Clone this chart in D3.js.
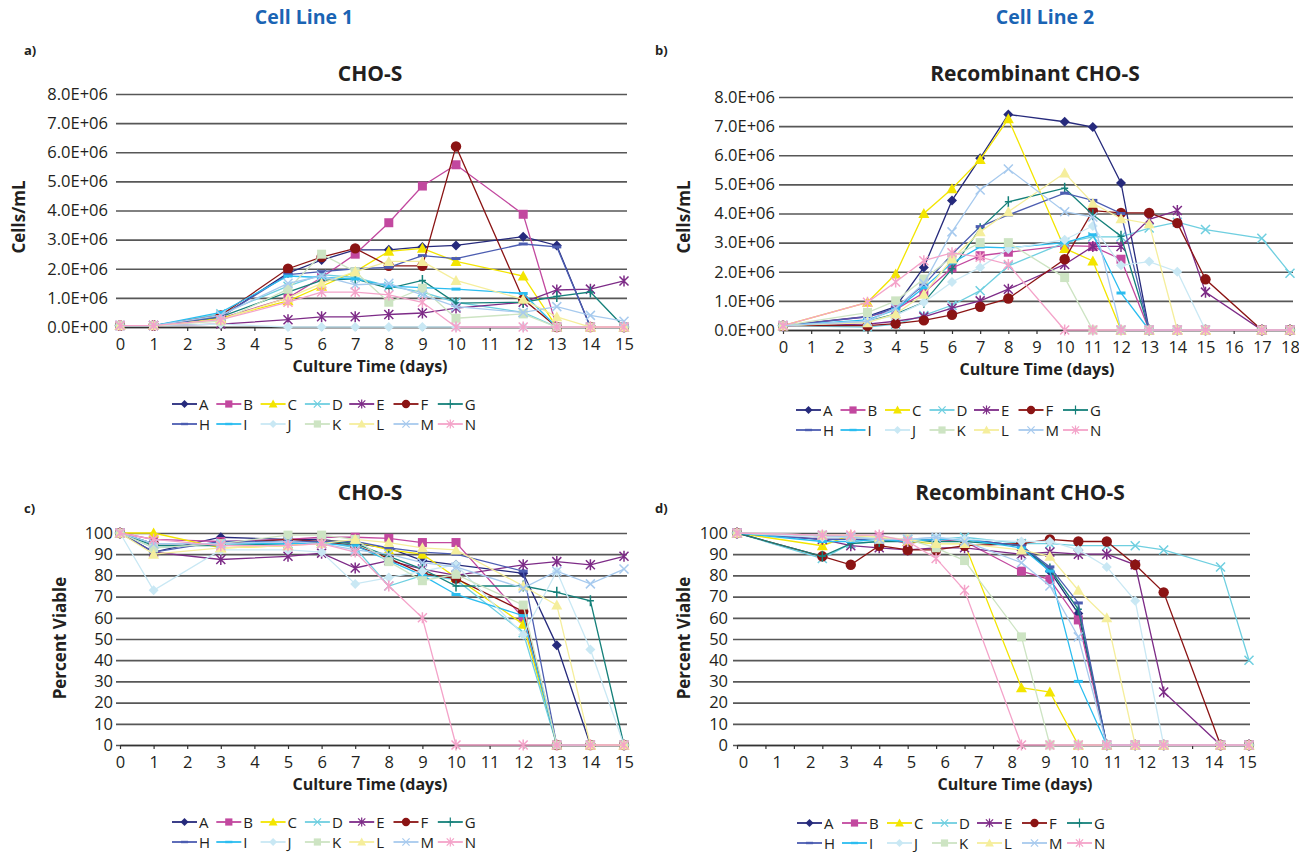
<!DOCTYPE html>
<html>
<head>
<meta charset="utf-8">
<script src="https://cdn.jsdelivr.net/npm/d3@7"></script>
<style>
  body { margin: 0; background: #fff; }
  svg text { font-family: "Open Sans", "Noto Sans", sans-serif; fill: #231f20; }
</style>
</head>
<body>
<svg id="chart" width="1299" height="852"></svg>
<script>
// Series labels and sampling days
var seriesNames = ["A", "B", "C", "D", "E", "F", "G", "H", "I", "J", "K", "L", "M", "N"]
var daysLine1 = [0, 1, 3, 5, 6, 7, 8, 9, 10, 12, 13, 14, 15]
var daysLine2 = [0, 3, 4, 5, 6, 7, 8, 10, 11, 12, 13, 14, 15, 17, 18]
var axisDays15 = d3.range(0, 16)
var axisDays18 = d3.range(0, 19)
var cellTicks = d3.range(0, 9)
var viableTicks = d3.range(0, 101, 10)

// Cell Line 1, CHO-S, cells/mL in millions (one row per series A..N)
var cellsLine1 = [
  [0.05, 0.05, 0.35, 1.85, 2.3, 2.65, 2.65, 2.75, 2.8, 3.1, 2.8, 0, 0],
  [0.05, 0.05, 0.3, 1.0, 1.7, 2.5, 3.58, 4.84, 5.57, 3.87, 0, 0, 0],
  [0.05, 0.05, 0.3, 0.9, 1.4, 1.9, 2.6, 2.7, 2.25, 1.75, 0, 0, 0],
  [0.05, 0.05, 0.45, 1.4, 1.8, 1.7, 1.4, 1.2, 0.85, 0.5, 0, 0, 0],
  [0.05, 0.05, 0.1, 0.25, 0.35, 0.35, 0.43, 0.48, 0.65, 0.85, 1.27, 1.3, 1.58],
  [0.05, 0.05, 0.4, 2.0, 2.4, 2.7, 2.1, 2.1, 6.2, 0.95, 0, 0, 0],
  [0.05, 0.05, 0.35, 1.2, 1.6, 1.65, 1.33, 1.6, 0.82, 0.85, 1.05, 1.2, 0],
  [0.05, 0.05, 0.35, 1.8, 1.9, 2.0, 2.05, 2.45, 2.35, 2.85, 2.75, 0, 0],
  [0.05, 0.05, 0.5, 1.75, 1.7, 1.65, 1.4, 1.35, 1.3, 1.15, 0, 0, 0],
  [0.05, 0.05, 0.1, 0, 0, 0, 0, 0, 0, 0, 0, 0, 0],
  [0.05, 0.05, 0.2, 1.3, 2.5, 1.9, 0.85, 1.33, 0.3, 0.45, 0, 0, 0],
  [0.05, 0.05, 0.25, 1.0, 1.5, 1.9, 2.25, 2.25, 1.6, 0.95, 0.35, 0, 0],
  [0.05, 0.05, 0.4, 1.5, 1.75, 1.45, 1.5, 1.1, 0.7, 0.5, 0.7, 0.4, 0.2],
  [0.05, 0.05, 0.25, 0.85, 1.2, 1.2, 1.1, 0.85, 0, 0, 0, 0, 0]
]

// Cell Line 2, Recombinant CHO-S, cells/mL in millions
var cellsLine2 = [
  [0.15, 0.47, 0.8, 2.15, 4.45, 5.9, 7.4, 7.15, 6.97, 5.05, 0, 0, 0, 0, 0],
  [0.15, 0.45, 0.7, 1.28, 2.13, 2.55, 2.67, 2.9, 2.87, 2.43, 0, 0, 0, 0, 0],
  [0.15, 0.95, 1.92, 4.0, 4.85, 5.85, 7.25, 2.8, 2.37, 0, 0, 0, 0, 0, 0],
  [0.15, 0.1, 0.2, 0.5, 0.85, 1.35, 2.2, 3.0, 3.2, 3.2, 3.5, 3.7, 3.45, 3.15, 1.95],
  [0.15, 0.2, 0.3, 0.45, 0.75, 1.0, 1.4, 2.25, 2.87, 2.87, 3.8, 4.1, 1.3, 0, 0],
  [0.15, 0.15, 0.22, 0.33, 0.52, 0.8, 1.08, 2.43, 4.1, 4.02, 4.02, 3.67, 1.74, 0, 0],
  [0.15, 0.3, 0.55, 0.95, 2.1, 3.48, 4.4, 4.87, 3.96, 3.22, 0, 0, 0, 0, 0],
  [0.15, 0.45, 0.75, 1.55, 2.6, 3.55, 3.95, 4.7, 4.45, 4.0, 0, 0, 0, 0, 0],
  [0.15, 0.35, 0.7, 1.45, 2.3, 2.85, 2.82, 3.0, 3.27, 1.27, 0, 0, 0, 0, 0],
  [0.15, 0.3, 0.5, 0.95, 1.65, 2.15, 2.78, 3.1, 3.57, 2.22, 2.35, 2.0, 0, 0, 0],
  [0.15, 0.6, 1.0, 1.75, 2.5, 3.0, 3.0, 1.8, 0, 0, 0, 0, 0, 0, 0],
  [0.15, 0.25, 0.55, 1.23, 2.44, 3.37, 4.06, 5.39, 4.35, 3.82, 3.65, 0, 0, 0, 0],
  [0.15, 0.3, 0.75, 1.6, 3.37, 4.81, 5.53, 4.06, 3.88, 0, 0, 0, 0, 0, 0],
  [0.15, 0.95, 1.65, 2.38, 2.65, 2.5, 2.25, 0, 0, 0, 0, 0, 0, 0, 0]
]

// Cell Line 1, percent viable
var viableLine1 = [
  [100, 91, 98, 97, 97, 95, 93, 87, 85, 81, 47, 0, 0],
  [100, 97, 96, 97, 98, 98, 97.5, 95.5, 95.5, 60, 0, 0, 0],
  [100, 100, 93, 94, 96, 96, 92, 90, 79, 57, 0, 0, 0],
  [100, 93, 95, 95, 96, 93, 75, 80, 78, 53, 0, 0, 0],
  [100, 91, 87.5, 89, 90.5, 83.5, 87, 83, 80, 85, 86.5, 85, 89],
  [100, 95, 95, 97, 96, 94, 88, 81, 78.5, 63, 0, 0, 0],
  [100, 94, 94, 95, 96, 95, 89, 83, 75, 75, 72, 68, 0],
  [100, 91, 96, 96, 96, 96, 93, 91, 90, 82, 0, 0, 0],
  [100, 95, 95, 95, 95, 94, 87, 80, 71, 61, 0, 0, 0],
  [100, 73, 92, 92, 91, 76, 79, 82, 85, 52, 82, 45, 0],
  [100, 93, 95, 99, 99, 97, 86.5, 77.5, 80.5, 66, 0, 0, 0],
  [100, 90, 93, 94, 95, 97, 95.5, 93, 92, 75, 66, 0, 0],
  [100, 95, 95, 96, 95, 92, 90, 86, 84, 74, 82, 76, 83],
  [100, 97, 94, 94, 95, 91, 75, 60, 0, 0, 0, 0, 0]
]

// Cell Line 2, percent viable
var viableLine2 = [
  [100, 97, 97, 97, 96, 97, 97, 94, 82, 62, 0, 0, 0, 0, 0],
  [100, 98, 98, 98, 95, 97, 96, 82, 78, 59, 0, 0, 0, 0, 0],
  [100, 94, 99, 98, 96, 95, 95, 27, 25, 0, 0, 0, 0, 0, 0],
  [100, 88, 95, 96, 97, 97, 98, 95, 95, 94, 94, 94, 92, 84, 40],
  [100, 97, 94, 93, 92, 93, 93, 90, 91, 90, 90, 85, 25, 0, 0],
  [100, 89, 85, 94, 92, 92, 94, 95, 97, 96, 96, 85, 72, 0, 0],
  [100, 89, 95, 96, 96, 96, 96, 94, 83, 64, 0, 0, 0, 0, 0],
  [100, 97, 97, 97, 96, 97, 97, 94, 84, 67, 0, 0, 0, 0, 0],
  [100, 96, 96, 97, 96, 97, 97, 93, 82, 30, 0, 0, 0, 0, 0],
  [100, 98, 98, 98, 97, 98, 97, 96, 96, 92, 84, 68, 0, 0, 0],
  [100, 99, 98, 97, 97, 93, 87, 51, 0, 0, 0, 0, 0, 0, 0],
  [100, 99, 99, 98, 97, 95, 95, 92, 89, 73, 60, 0, 0, 0, 0],
  [100, 99, 98, 97, 97, 98, 96, 86, 75, 51, 0, 0, 0, 0, 0],
  [100, 99, 99, 99, 96, 88, 73, 0, 0, 0, 0, 0, 0, 0, 0]
]

// Styles per series
var seriesColors = ["#262a7c", "#c2489f", "#f3e500", "#6fcfe0", "#7d2b87", "#8b1414", "#15807a",
  "#4c5db1", "#2bbdf0", "#c9e8f4", "#cde4c3", "#f5ee9c", "#a7caee", "#f4a3c9"]
var seriesShapes = ["diamond", "square", "triangle", "x", "star", "circle", "plus",
  "dash", "dash", "diamond", "square", "triangle", "x", "star"]

var svg = d3.select("#chart")

function markerPath(shape) {
  switch (shape) {
    case "diamond": return "M0,-5L5,0L0,5L-5,0Z"
    case "square": return "M-4.5,-4.5h9v9h-9Z"
    case "triangle": return "M0,-5.5L5.5,4.5L-5.5,4.5Z"
    case "circle": return d3.symbol(d3.symbolCircle, 85)()
    case "x": return "M-4.5,-4.5L4.5,4.5M-4.5,4.5L4.5,-4.5"
    case "star": return "M-4.5,-4.5L4.5,4.5M-4.5,4.5L4.5,-4.5M0,-5.5L0,5.5"
    case "plus": return "M0,-5.5L0,5.5M-3.5,0L3.5,0"
    case "dash": return "M-4.5,0L4.5,0"
  }
}
var filledShapes = ["diamond", "square", "triangle", "circle"]

function styleMarker(sel, i) {
  var shape = seriesShapes[i]
  var filled = filledShapes.indexOf(shape) >= 0
  sel.attr("d", markerPath(shape))
    .style("fill", filled ? seriesColors[i] : "none")
    .style("stroke", seriesColors[i])
    .style("stroke-width", filled ? 0 : (shape == "dash" ? 3 : 1.5))
}

function cellFormat(d) {
  return d.toFixed(1) + (d == 0 ? "E+00" : "E+06")
}

function drawPanel(p) {
  var x = d3.scaleLinear().domain(p.xDomain).range(p.xRange)
  var y = d3.scaleLinear().domain(p.yDomain).range(p.yRange)
  var g = svg.append("g")

  // Grid lines with y tick labels
  var grid = g.append("g")
    .attr("transform", `translate(${p.gridLeft},0)`)
    .call(d3.axisLeft(y)
      .tickValues(p.yTicks)
      .tickSize(-(p.gridRight - p.gridLeft))
      .tickPadding(p.labelPad)
      .tickFormat(p.yFormat))
  grid.select(".domain").remove()
  grid.selectAll(".tick line").style("stroke", "#575757").style("stroke-width", 1.7)
  grid.selectAll(".tick text").style("font-size", "16.5px")

  // X axis: tick marks on the data scale, labels on the label scale
  var ax = g.append("g")
    .attr("transform", `translate(0,${y(0)})`)
    .call(d3.axisBottom(x).tickValues(p.tickDays).tickSize(4).tickSizeOuter(0).tickFormat(p.labelScale ? "" : d3.format("d")).tickPadding(7))
  ax.select(".domain").style("stroke", "#333").style("stroke-width", 1.4)
  ax.selectAll(".tick line").style("stroke", "#333").style("stroke-width", 1.2)
  ax.selectAll(".tick text").style("font-size", "16.5px")
  if (p.labelScale) {
    var lx = d3.scaleLinear().domain([0, 15]).range(p.labelScale)
    var ax2 = g.append("g")
      .attr("transform", `translate(0,${y(0)})`)
      .call(d3.axisBottom(lx).tickValues(axisDays15).tickSize(0).tickPadding(11))
    ax2.select(".domain").remove()
    ax2.selectAll(".tick text").style("font-size", "16.5px")
  }

  // Series lines and markers
  var line = d3.line()
    .x(function(d) { return x(d[0]) })
    .y(function(d) { return y(d[1]) })
  p.values.forEach(function(vals, i) {
    var pts = vals.map(function(v, k) { return [p.days[k], v] })
    g.append("path")
      .datum(pts)
      .attr("d", line)
      .style("fill", "none")
      .style("stroke", seriesColors[i])
      .style("stroke-width", 1.3)
    g.selectAll(".m" + i)
      .data(pts)
      .enter()
      .append("path")
      .attr("class", "m" + i)
      .attr("transform", function(d) { return `translate(${x(d[0])},${y(d[1])})` })
      .call(styleMarker, i)
  })

  // Titles
  g.append("text")
    .attr("x", p.titleX).attr("y", p.titleY)
    .attr("text-anchor", "middle")
    .style("font-size", "21px").style("font-weight", "bold")
    .text(p.title)
  g.append("text")
    .attr("transform", `translate(${p.yTitleX},${p.yTitleY}) rotate(-90)`)
    .attr("text-anchor", "middle")
    .style("font-size", "17px").style("font-weight", "bold")
    .text(p.yTitle)
  g.append("text")
    .attr("x", p.xTitleX).attr("y", y(0) + 45)
    .attr("text-anchor", "middle")
    .style("font-size", "16px").style("font-weight", "bold")
    .text("Culture Time (days)")
  g.append("text")
    .attr("x", p.tagX).attr("y", p.tagY)
    .style("font-size", "13px").style("font-weight", "bold")
    .text(p.tag)

  // Legend, two rows of seven
  var leg = g.append("g").attr("transform", `translate(${p.legendX},${p.legendY})`)
  seriesNames.forEach(function(name, i) {
    var item = leg.append("g")
      .attr("transform", `translate(${(i % 7) * p.legendStep},${Math.floor(i / 7) * 20})`)
    item.append("line")
      .attr("x1", 0).attr("x2", 25)
      .style("stroke", seriesColors[i]).style("stroke-width", 1.8)
    item.append("path")
      .attr("transform", "translate(12.5,0) scale(0.8)")
      .call(styleMarker, i)
    item.append("text")
      .attr("x", 27).attr("y", 5.5)
      .style("font-size", "15px")
      .text(name)
  })
}

// Column headers
svg.append("text").attr("x", 304).attr("y", 24).attr("text-anchor", "middle")
  .style("font-size", "19.5px").style("font-weight", "bold").style("fill", "#1a64b4").text("Cell Line 1")
svg.append("text").attr("x", 1045).attr("y", 24).attr("text-anchor", "middle")
  .style("font-size", "19.5px").style("font-weight", "bold").style("fill", "#1a64b4").text("Cell Line 2")

drawPanel({
  tag: "a)", tagX: 24, tagY: 55, title: "CHO-S", titleX: 370, titleY: 81,
  yTitle: "Cells/mL", yTitleX: 25, yTitleY: 217, xTitleX: 370,
  xDomain: [0, 15], xRange: [120, 624], yDomain: [0, 8], yRange: [327, 94],
  gridLeft: 116, gridRight: 627, labelPad: 8, yTicks: cellTicks, yFormat: cellFormat,
  tickDays: axisDays15, days: daysLine1, values: cellsLine1,
  legendX: 172, legendY: 404, legendStep: 44.3
})
drawPanel({
  tag: "b)", tagX: 655, tagY: 55, title: "Recombinant CHO-S", titleX: 1035, titleY: 81,
  yTitle: "Cells/mL", yTitleX: 690, yTitleY: 217, xTitleX: 1037,
  xDomain: [0, 18], xRange: [783, 1290], yDomain: [0, 8], yRange: [330, 97],
  gridLeft: 779, gridRight: 1293, labelPad: 4, yTicks: cellTicks, yFormat: cellFormat,
  tickDays: axisDays18, days: daysLine2, values: cellsLine2,
  legendX: 796, legendY: 410, legendStep: 44.5
})
drawPanel({
  tag: "c)", tagX: 24, tagY: 513, title: "CHO-S", titleX: 370, titleY: 500,
  yTitle: "Percent Viable", yTitleX: 66, yTitleY: 638, xTitleX: 370,
  xDomain: [0, 15], xRange: [120, 624], yDomain: [0, 100], yRange: [745, 533],
  gridLeft: 116, gridRight: 627, labelPad: 3, yTicks: viableTicks, yFormat: d3.format("d"),
  tickDays: axisDays15, days: daysLine1, values: viableLine1,
  legendX: 172, legendY: 822, legendStep: 44.3
})
drawPanel({
  tag: "d)", tagX: 655, tagY: 513, title: "Recombinant CHO-S", titleX: 1020, titleY: 500,
  yTitle: "Percent Viable", yTitleX: 690, yTitleY: 638, xTitleX: 1015,
  xDomain: [0, 18], xRange: [737, 1249], yDomain: [0, 100], yRange: [745, 533],
  gridLeft: 733, gridRight: 1250, labelPad: 5, yTicks: viableTicks, yFormat: d3.format("d"),
  tickDays: axisDays18, labelScale: [743, 1247], days: daysLine2, values: viableLine2,
  legendX: 797, legendY: 823, legendStep: 45
})
</script>
</body>
</html>
